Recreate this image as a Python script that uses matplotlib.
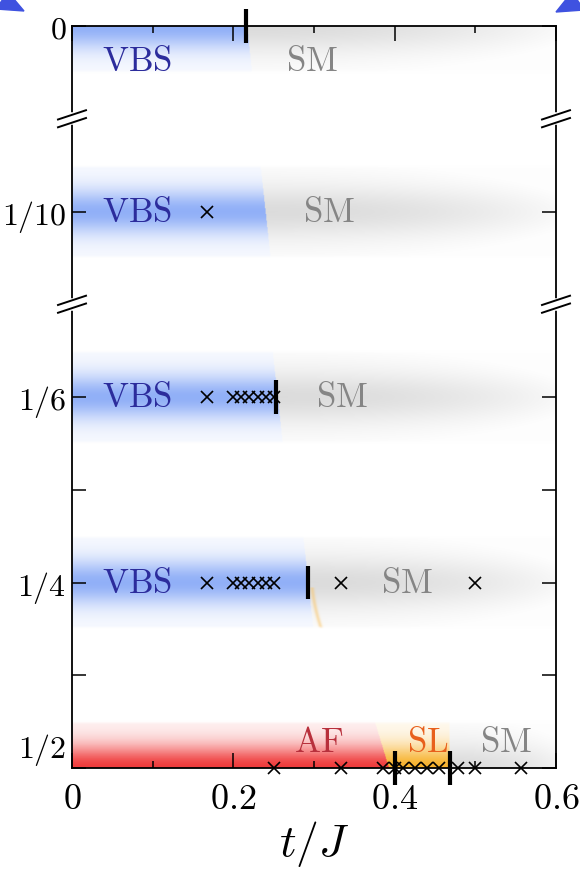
import numpy as np
import matplotlib
matplotlib.use('Agg')
from matplotlib import pyplot as plt
from matplotlib.patches import Polygon

plt.rcParams['mathtext.fontset'] = 'cm'
plt.rcParams['font.family'] = 'DejaVu Serif'

# rows of the diagram, top to bottom
row_labels = ['0', '1/10', '1/6', '1/4', '1/2']
rows = [0, 1, 2, 3, 4]

# end of the VBS region in t/J for the first four rows
vbs_edge = [0.217, 0.240, 0.255, 0.293]
# AF / SL / SM boundaries for the bottom row
af_edge = 0.393
sl_edge = 0.468

# phase transitions (thick bars)
bar_row = [0, 2, 3, 4, 4]
bar_t = [0.216, 0.253, 0.292, 0.401, 0.468]

# simulated points
pts_row = [1,
           2, 2, 2, 2, 2, 2, 2,
           3, 3, 3, 3, 3, 3, 3, 3, 3,
           4, 4, 4, 4, 4, 4, 4, 4, 4, 4, 4]
pts_t = [0.167,
         0.167, 0.20, 0.21, 0.22, 0.23, 0.24, 0.25,
         0.167, 0.20, 0.21, 0.22, 0.23, 0.24, 0.25, 0.333, 0.50,
         0.25, 0.333, 0.385, 0.40, 0.41, 0.425, 0.44, 0.455, 0.478, 0.50, 0.556]

# phase names: text, t/J, row, colour
phase_text = ['VBS', 'SM', 'VBS', 'SM', 'VBS', 'SM', 'VBS', 'SM', 'AF', 'SL', 'SM']
phase_t = [0.080, 0.298, 0.080, 0.318, 0.080, 0.335, 0.080, 0.415, 0.306, 0.441, 0.538]
phase_row = [0.19, 0.19, 1, 1, 2, 2, 3, 3, 3.86, 3.86, 3.86]
vbs_c, sm_c, af_c, sl_c = '#2c2c9c', '#858585', '#b8303c', '#e8601c'
phase_col = [vbs_c, sm_c, vbs_c, sm_c, vbs_c, sm_c, vbs_c, sm_c, af_c, sl_c, sm_c]

# ---- shaded background ----
nx, ny = 700, 900
xs = np.linspace(0, 0.6, nx)
ys = np.linspace(0, 4, ny)
X, Y = np.meshgrid(xs, ys)
img = np.ones((ny, nx, 3))


def paint(alpha, color):
    a = np.clip(alpha, 0, 1)[..., None]
    img[:] = img * (1 - a) + np.array(color) * a


def band(dy, h=0.25):
    # soft-edged mask of a horizontal band
    return np.clip((h - np.abs(dy)) / 0.015, 0, 1)


def profile(dy):
    return 0.07 + 0.93 * np.exp(-(dy / 0.12) ** 2)


def sm_shade(dy, x0):
    lx = 0.64 - x0
    r2 = ((X - x0) / lx) ** 2 + (dy / 0.30) ** 2
    v = np.clip(1 - r2, 0, 1)
    v = v * (0.3 + 0.7 * np.exp(-(dy / 0.14) ** 2))
    return np.maximum(v, 0.035) * band(dy) * (X >= x0)


for r, xe0 in zip(rows[:4], vbs_edge):
    dy = Y - r
    xe = xe0 + 0.025 * dy
    paint(0.25 * sm_shade(dy, xe), (0.45, 0.45, 0.45))
    paint(profile(dy) * band(dy) * (X < xe), (0.57, 0.69, 0.97))
    if r == 3:
        xc = xe + 0.004 + 0.12 * np.clip(dy - 0.03, 0, None) ** 2
        sliver = np.exp(-((X - xc) / 0.0025) ** 2) * (dy > 0.03) * band(dy)
        paint(0.45 * sliver, (0.98, 0.75, 0.35))

# bottom row: AF, SL, SM
dy = Y - 4
red_x = af_edge + 0.07 * dy
paint(0.25 * sm_shade(dy, sl_edge), (0.45, 0.45, 0.45))
paint(profile(dy) * band(dy) * (X < red_x), (0.94, 0.24, 0.24))
paint(profile(dy) * band(dy) * (X >= red_x) * (X < sl_edge), (0.97, 0.70, 0.18))

# ---- figure ----
fig = plt.figure(figsize=(5.8, 8.8), dpi=100)
ax = fig.add_axes([72 / 580, 1 - 768 / 880, 484 / 580, 742 / 880])
ax.imshow(img, extent=(0, 0.6, 4, 0), aspect='auto', interpolation='bilinear', zorder=0)
ax.set_xlim(0, 0.6)
ax.set_ylim(4, 0)

for s in ax.spines.values():
    s.set_linewidth(1.3)
    s.set_zorder(5)

ax.set_xticks([0, 0.2, 0.4, 0.6])
ax.set_xticklabels(['$0$', '$0.2$', '$0.4$', '$0.6$'])
ax.set_xticks([0.1, 0.3, 0.5], minor=True)
ax.set_yticks(rows)
ax.set_yticklabels(['$' + s + '$' for s in row_labels])
ax.set_yticks([2.5, 3.5], minor=True)
ax.tick_params(axis='both', which='both', direction='in', top=True, right=True,
               width=1.1, labelsize=26)
ax.tick_params(axis='x', which='major', length=11, pad=10)
ax.tick_params(axis='x', which='minor', length=5)
ax.tick_params(axis='y', which='both', length=10, pad=4, labelsize=23)
ax.get_yticklabels()[-1].set_va('bottom')
ax.set_xlabel('$t/J$', fontsize=33, labelpad=2)

# simulated points
ax.plot(pts_t, pts_row, 'x', color='black', ms=9, mew=1.2, zorder=4, clip_on=False)

# transition bars
for t, r in zip(bar_t, bar_row):
    ax.plot([t, t], [r - 0.09, r + 0.09], color='black', lw=3, solid_capstyle='butt',
            zorder=6, clip_on=False)

for txt, t, r, c in zip(phase_text, phase_t, phase_row, phase_col):
    ax.text(t, r, r'$\mathrm{' + txt + '}$', color=c, fontsize=25, ha='center', va='center', zorder=3)

# axis-break marks on both sides
bt = ax.get_yaxis_transform()
px = 1 / 484
for yb in [0.5, 1.5]:
    for xa in [0, 1]:
        ax.plot([xa, xa], [yb - 0.02, yb + 0.02], color='white', lw=4, transform=bt,
                clip_on=False, zorder=7)
        for off in [-0.021, 0.021]:
            ax.plot([xa - 14 * px, xa + 14 * px], [yb + off + 0.025, yb + off - 0.025],
                    color='black', lw=1.4, transform=bt, clip_on=False, zorder=8)

# arrow tips entering from above
W, H = 580, 880
for pts in ([(24, 11), (-4, 9), (8, -8)], [(556, 12), (584, 10), (572, -8)]):
    fig.patches.append(Polygon([(x / W, 1 - y / H) for x, y in pts], closed=True,
                               transform=fig.transFigure, color='#3f52e0', zorder=10))

fig.savefig('out.png', dpi=100)
